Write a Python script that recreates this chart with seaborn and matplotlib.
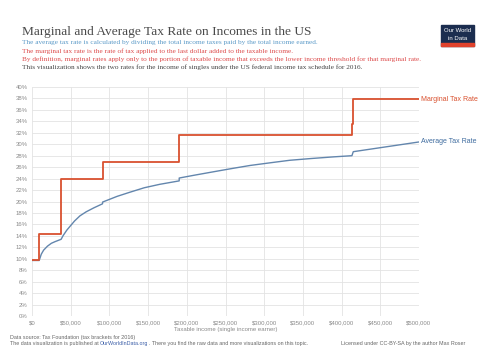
import numpy as np
import pandas as pd
import seaborn as sns
import matplotlib.pyplot as plt
from matplotlib.patches import Rectangle

# marginal rate steps (as drawn on the chart's own y scale)
marg_income = [0, 9275, 37650, 91150, 190150, 413350, 415050, 500000]
marg_rate = [9.7, 14.4, 23.9, 26.9, 31.6, 33.5, 37.9, 37.9]

# average rate
avg_income = [0, 9275, 12000, 15000, 20000, 25000, 30000, 37650, 40000, 45000,
              55000, 62000, 70000, 80000, 91150, 91200, 110000, 126000, 145000,
              165000, 190150, 190200, 210000, 239000, 260000, 282000, 310000,
              333000, 360000, 390000, 413350, 415050, 440000, 470000, 500000]
avg_rate = [9.7, 9.7, 10.8, 11.5, 12.2, 12.7, 13.0, 13.4, 14.0, 15.0,
            16.6, 17.5, 18.2, 18.9, 19.6, 19.9, 20.9, 21.6, 22.4,
            23.0, 23.6, 24.1, 24.6, 25.3, 25.8, 26.3, 26.8,
            27.2, 27.5, 27.8, 28.0, 28.7, 29.2, 29.8, 30.4]

x_ticks = list(range(0, 500001, 50000))
y_ticks = list(range(0, 41, 2))

RED = "#d9512f"
BLUE = "#6386ad"
W, H = 493, 351

sns.set_style("white")
plt.rcParams["font.family"] = ["Liberation Sans", "DejaVu Sans"]

fig = plt.figure(figsize=(W / 100, H / 100), dpi=100)
ax = fig.add_axes([32 / W, (H - 316) / H, 387 / W, 229 / H])

marg = pd.DataFrame({"income": marg_income, "rate": marg_rate})
avg = pd.DataFrame({"income": avg_income, "rate": avg_rate})

sns.lineplot(data=avg, x="income", y="rate", ax=ax, color=BLUE, lw=1.0,
             sort=False, estimator=None)
sns.lineplot(data=marg, x="income", y="rate", ax=ax, color=RED, lw=1.3,
             drawstyle="steps-post", sort=False, estimator=None)

ax.set_xlim(0, 500000)
ax.set_ylim(0, 40)
ax.set_xticks(x_ticks)
ax.set_xticklabels([f"${v:,}" for v in x_ticks])
ax.set_yticks(y_ticks)
ax.set_yticklabels([f"{v}%" for v in y_ticks])
ax.grid(True, color="#e3e3e3", lw=0.6)
ax.set_axisbelow(True)
for s in ax.spines.values():
    s.set_visible(False)
ax.tick_params(length=0, labelsize=4.3, colors="#8a8a8a", pad=3)
ax.set_xlabel("Taxable income (single income earner)", fontsize=4.3,
              color="#8a8a8a", labelpad=1)
ax.set_ylabel("")

ax.text(503000, marg_rate[-1], "Marginal Tax Rate", color=RED, fontsize=5,
        va="center", ha="left", clip_on=False)
ax.text(503000, avg_rate[-1], "Average Tax Rate", color="#3f6c9f", fontsize=5,
        va="center", ha="left", clip_on=False)

serif = ["Liberation Serif", "DejaVu Serif"]
fig.text(22 / W, 1 - 32 / H, "Marginal and Average Tax Rate on Incomes in the US",
         fontsize=9.6, color="#4a4a4a", family=serif, va="center")
subs = [
    ("The average tax rate is calculated by dividing the total income taxes paid by the total income earned.", "#5b9ac8"),
    ("The marginal tax rate is the rate of tax applied to the last dollar added to the taxable income.", "#dd4b4b"),
    ("By definition, marginal rates apply only to the portion of taxable income that exceeds the lower income threshold for that marginal rate.", "#dd4b4b"),
    ("This visualization shows the two rates for the income of singles under the US federal income tax schedule for 2016.", "#444444"),
]
for i, (t, c) in enumerate(subs):
    fig.text(22 / W, 1 - (42.5 + 8.2 * i) / H, t, fontsize=5.25, color=c,
             family=serif, va="center")

# logo
fig.patches.append(Rectangle((441 / W, 1 - 46 / H), 33 / W, 21 / H,
                             transform=fig.transFigure, color="#1b2d4f"))
fig.patches.append(Rectangle((441 / W, 1 - 46 / H), 33 / W, 2.5 / H,
                             transform=fig.transFigure, color="#e0422c"))
fig.text(457.5 / W, 1 - 31 / H, "Our World", fontsize=4.3, color="white",
         ha="center", va="center")
fig.text(457.5 / W, 1 - 38.5 / H, "in Data", fontsize=4.3, color="white",
         ha="center", va="center")

# footer
FS = 3.9
fig.text(10 / W, 1 - 337 / H, "Data source: Tax Foundation (tax brackets for 2016)",
         fontsize=FS, color="#666666", va="center")
t1 = fig.text(10 / W, 1 - 344 / H, "The data visualization is published at ",
              fontsize=FS, color="#666666", va="center")
t2 = plt.annotate("OurWorldInData.org", xy=(1, 0.5), xycoords=t1, fontsize=FS,
                  color="#3c5fa8", va="center", ha="left")
plt.annotate(". There you find the raw data and more visualizations on this topic.",
             xy=(1, 0.5), xycoords=t2, fontsize=FS, color="#666666",
             va="center", ha="left")
fig.text(465 / W, 1 - 344 / H, "Licensed under CC-BY-SA by the author Max Roser",
         fontsize=FS, color="#666666", va="center", ha="right")

fig.savefig("out.png", dpi=100)
